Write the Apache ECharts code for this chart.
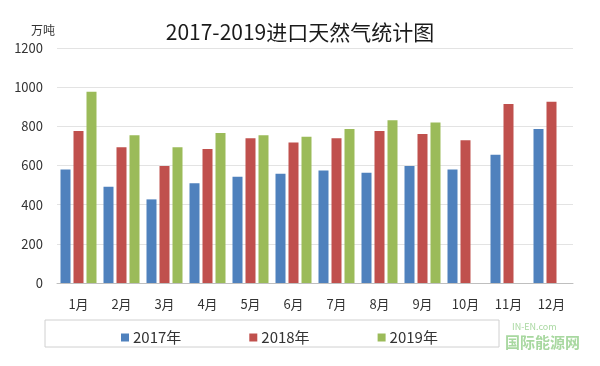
<!DOCTYPE html>
<html><head><meta charset="utf-8">
<script src="https://cdn.jsdelivr.net/npm/echarts@6/dist/echarts.min.js"></script>
<style>html,body{margin:0;padding:0;background:#fff}#c{width:600px;height:366px}</style>
</head><body><div id="c"></div>
<script>
var months = ['1月','2月','3月','4月','5月','6月','7月','8月','9月','10月','11月','12月'];
var seriesNames = ['2017年','2018年','2019年'];
var v2017 = [580, 491, 427, 509, 543, 558, 575, 563, 597, 580, 655, 787];
var v2018 = [776, 693, 597, 684, 739, 717, 739, 776, 761, 729, 914, 925];
var v2019 = [977, 754, 693, 766, 754, 747, 787, 831, 819, null, null, null];
var yTicks = [0, 200, 400, 600, 800, 1000, 1200];
var colors = ['#4F81BD', '#C0504D', '#9BBB59'];
var FONT = '"Noto Sans CJK SC", "Noto Sans", sans-serif';

var chart = echarts.init(document.getElementById('c'), null, {renderer: 'canvas'});
var data = [v2017, v2018, v2019];
chart.setOption({
  animation: false,
  color: colors,
  textStyle: {fontFamily: FONT},
  title: {
    text: '2017-2019进口天然气统计图',
    left: 'center', top: 17,
    textStyle: {fontSize: 21, fontWeight: 'normal', color: '#1a1a1a', fontFamily: FONT}
  },
  grid: {left: 57, right: 27, top: 48, bottom: 83},
  xAxis: {
    type: 'category', data: months,
    axisLine: {lineStyle: {color: '#bfbfbf'}},
    axisTick: {show: false},
    axisLabel: {color: '#333', fontSize: 13, margin: 15, fontFamily: FONT}
  },
  yAxis: {
    type: 'value', min: yTicks[0], max: yTicks[yTicks.length - 1], interval: 200,
    name: '万吨', nameLocation: 'end', nameGap: 12,
    nameTextStyle: {color: '#333', fontSize: 12, align: 'right', padding: [0, 2, 0, 0]},
    axisLine: {show: false}, axisTick: {show: false},
    axisLabel: {color: '#333', fontSize: 13, margin: 14, fontFamily: FONT,
      formatter: function (v) { return String(v); }},
    splitLine: {lineStyle: {color: '#e3e3e3'}}
  },
  legend: {
    data: seriesNames,
    left: 116, top: 325,
    itemWidth: 8, itemHeight: 8, itemGap: 68,
    icon: 'rect',
    textStyle: {fontSize: 15, color: '#333', fontFamily: FONT, padding: [0, 0, 0, -1]}
  },
  graphic: [
    {type: 'rect', shape: {x: 45, y: 320, width: 454, height: 27},
     style: {fill: 'none', stroke: '#d0d0d0', lineWidth: 1}, silent: true},
    {type: 'text', left: 512, top: 322,
     style: {text: 'IN-EN.com', fill: '#a8d8a0', font: '9px ' + FONT}},
    {type: 'text', left: 505, top: 335,
     style: {text: '国际能源网', fill: '#a8d8a0', font: 'bold 15px ' + FONT}}
  ],
  series: seriesNames.map(function (n, i) {
    return {
      name: n, type: 'bar', data: data[i],
      barWidth: 10, barGap: '30%'
    };
  })
});
</script></body></html>
